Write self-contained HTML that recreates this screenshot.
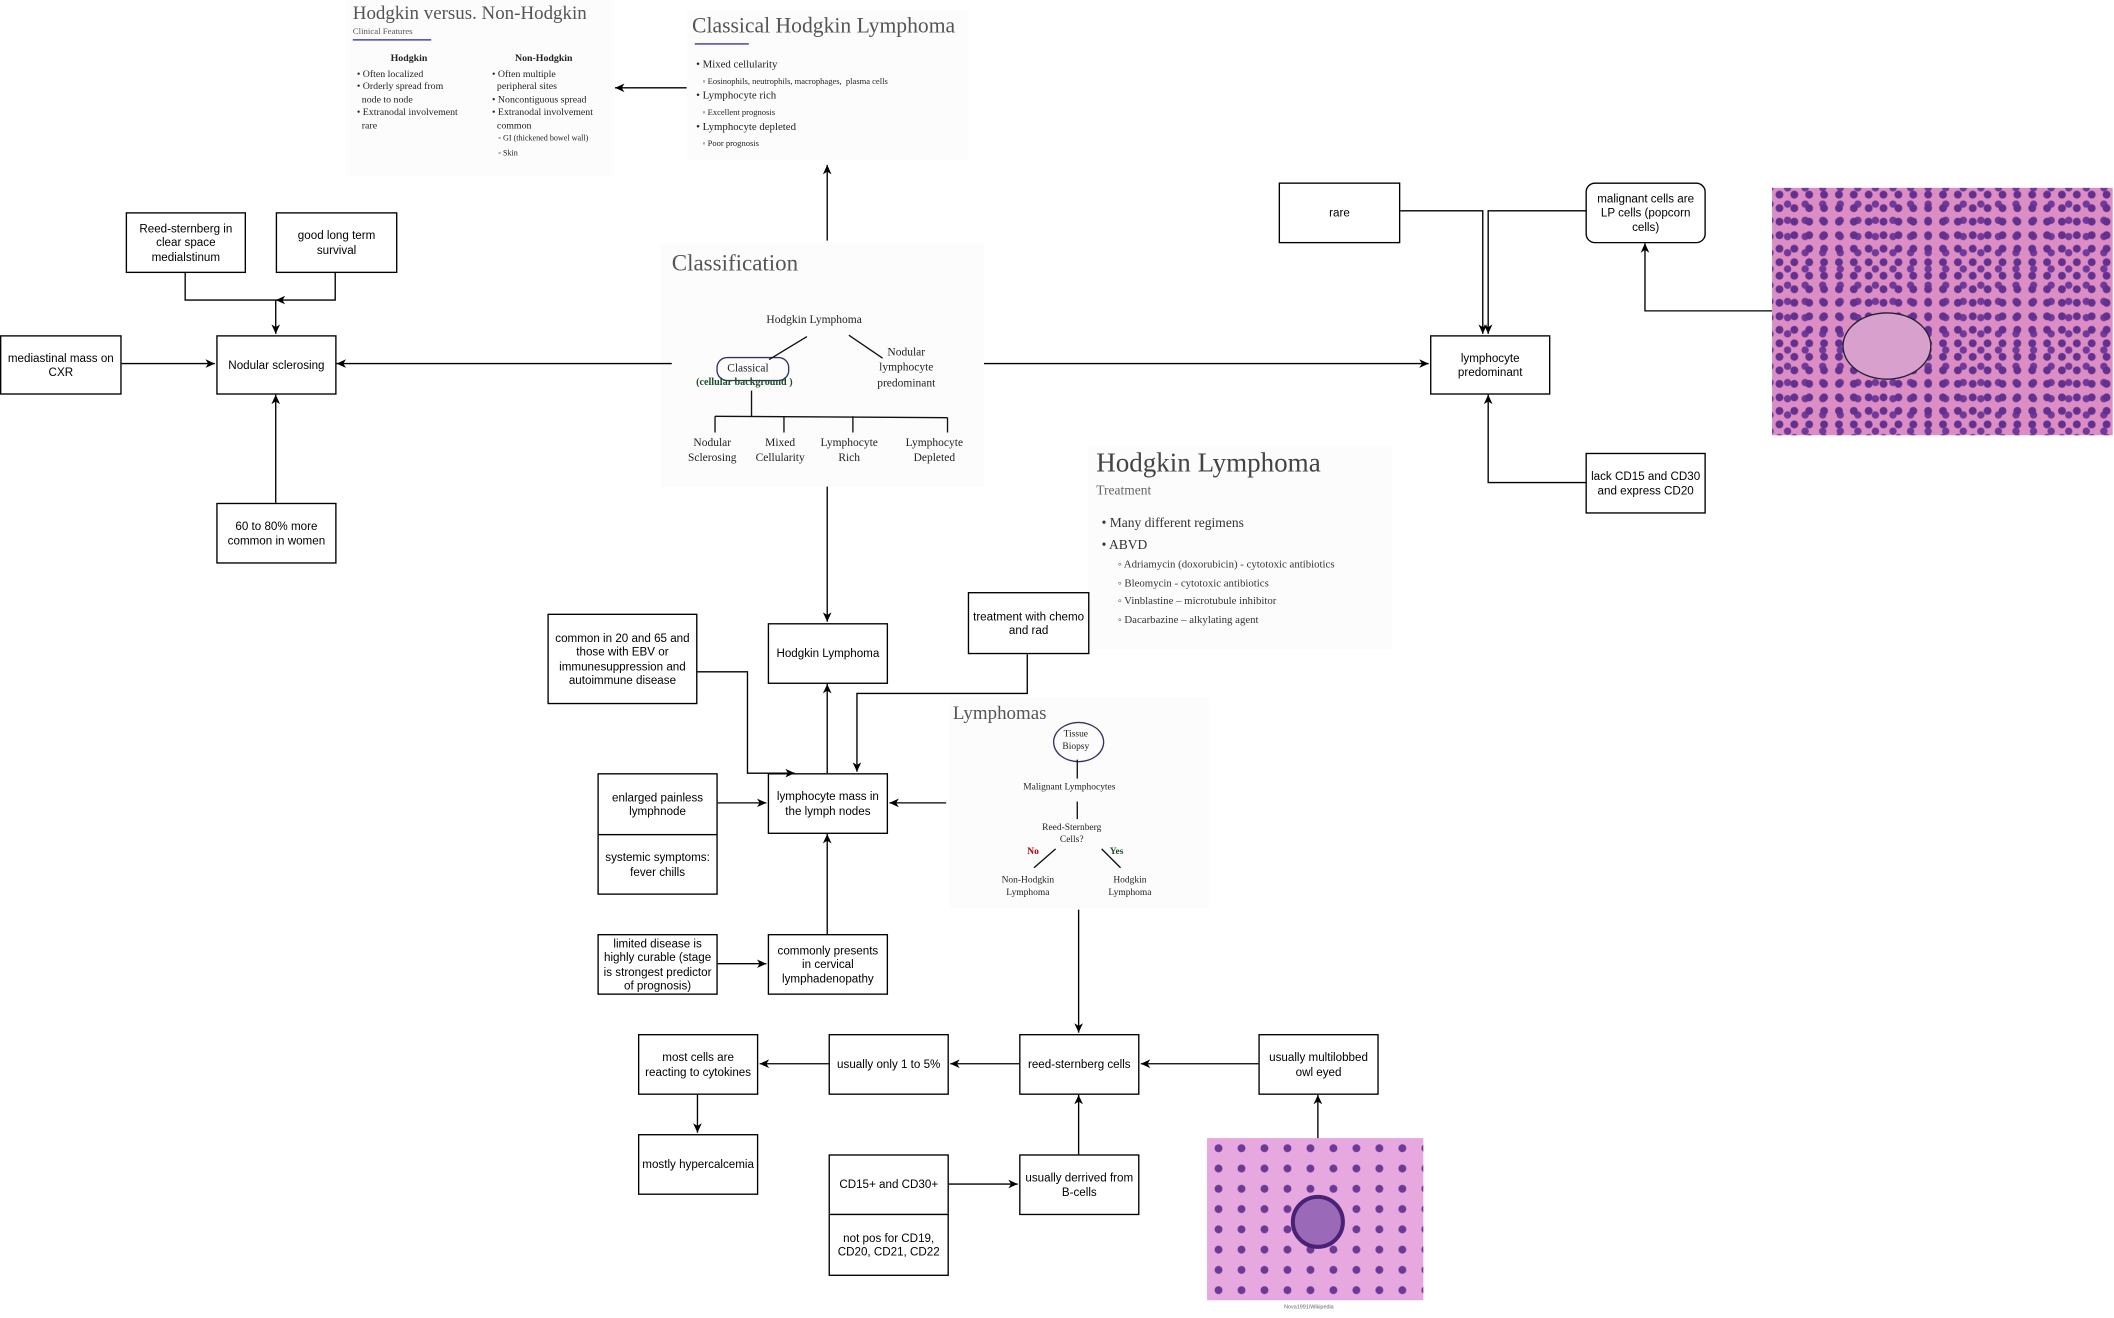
<!DOCTYPE html>
<html><head><meta charset="utf-8">
<style>
html,body{margin:0;padding:0;background:#fff;overflow:hidden}
#w{position:absolute;left:0;top:0;width:1564px;height:975px;transform:scale(1.35166);transform-origin:0 0;font-family:"Liberation Sans",Arial,sans-serif}
.b{position:absolute;box-sizing:border-box;border:1px solid #000;background:#fff;display:flex;align-items:center;justify-content:center;text-align:center;font-size:8.6px;line-height:1.2;padding:2px}
.s{position:absolute;font-family:"Liberation Serif",serif;color:#222;background:#fcfcfc}
.s .t{position:absolute;color:#555;white-space:nowrap}
.s .x{position:absolute;white-space:nowrap;font-size:7.3px;line-height:1.3}
.h{position:absolute;overflow:hidden}
</style></head><body><div id="w">

<div class="s" style="left:257px;top:0;width:196px;height:130px">
<div class="t" style="left:4px;top:3px;font-size:14px">Hodgkin versus. Non-Hodgkin</div>
<div class="t" style="left:4px;top:20px;font-size:6.5px">Clinical Features</div>
<div style="position:absolute;left:4px;top:29px;width:58px;border-top:1px solid #33a"></div>
<div class="x" style="left:32px;top:38px;font-weight:bold">Hodgkin</div>
<div class="x" style="left:124px;top:38px;font-weight:bold">Non-Hodgkin</div>
<div class="x" style="left:7px;top:50px">• Often localized<br>• Orderly spread from<br>&nbsp;&nbsp;node to node<br>• Extranodal involvement<br>&nbsp;&nbsp;rare</div>
<div class="x" style="left:107px;top:50px">• Often multiple<br>&nbsp;&nbsp;peripheral sites<br>• Noncontiguous spread<br>• Extranodal involvement<br>&nbsp;&nbsp;common<br><span style="font-size:6px">&nbsp;&nbsp;&nbsp;◦ GI (thickened bowel wall)<br>&nbsp;&nbsp;&nbsp;◦ Skin</span></div>
</div>

<div class="s" style="left:508px;top:8px;width:209px;height:110px">
<div class="t" style="left:4px;top:3px;font-size:16px">Classical Hodgkin Lymphoma</div>
<div style="position:absolute;left:6px;top:24px;width:40px;border-top:1px solid #33a"></div>
<div class="x" style="left:7px;top:34px;font-size:8px;line-height:1.45">• Mixed cellularity<br><span style="font-size:6.3px">&nbsp;&nbsp;&nbsp;◦ Eosinophils, neutrophils, macrophages,&nbsp; plasma cells</span><br>• Lymphocyte rich<br><span style="font-size:6.3px">&nbsp;&nbsp;&nbsp;◦ Excellent prognosis</span><br>• Lymphocyte depleted<br><span style="font-size:6.3px">&nbsp;&nbsp;&nbsp;◦ Poor prognosis</span></div>
</div>

<div class="s" style="left:489px;top:180px;width:239px;height:180px">
<div class="t" style="left:8px;top:5px;font-size:17px">Classification</div>
<div class="x" style="left:78px;top:51px;font-size:8.5px">Hodgkin Lymphoma</div>
<div class="x" style="left:49px;top:87px;font-size:8.5px">Classical</div>
<div style="position:absolute;left:41px;top:84px;width:52px;height:16px;border:1px solid #336;border-radius:8px"></div>
<div class="x" style="left:26px;top:98px;font-size:7.5px;color:#1c4f2a;font-weight:bold">(cellular background )</div>
<div class="x" style="left:160px;top:75px;font-size:8.5px;text-align:center;line-height:1.35">Nodular<br>lymphocyte<br>predominant</div>
<div class="x" style="left:20px;top:142px;font-size:8.5px;text-align:center;line-height:1.35">Nodular<br>Sclerosing</div>
<div class="x" style="left:70px;top:142px;font-size:8.5px;text-align:center;line-height:1.35">Mixed<br>Cellularity</div>
<div class="x" style="left:118px;top:142px;font-size:8.5px;text-align:center;line-height:1.35">Lymphocyte<br>Rich</div>
<div class="x" style="left:181px;top:142px;font-size:8.5px;text-align:center;line-height:1.35">Lymphocyte<br>Depleted</div>
<svg style="position:absolute;left:0;top:0" width="239" height="180"><g stroke="#111" stroke-width="1" fill="none">
<line x1="108" y1="69" x2="80" y2="86"/><line x1="139" y1="68" x2="164" y2="85"/>
<line x1="67" y1="109" x2="67" y2="128"/><line x1="40" y1="128" x2="212" y2="129"/>
<line x1="40" y1="128" x2="40" y2="140"/><line x1="91" y1="128" x2="91" y2="140"/><line x1="142" y1="128" x2="142" y2="140"/><line x1="212" y1="129" x2="212" y2="140"/></g></svg>
</div>

<div class="s" style="left:805px;top:330px;width:225px;height:150px">
<div class="t" style="left:6px;top:2px;font-size:20px;color:#444">Hodgkin Lymphoma</div>
<div class="t" style="left:6px;top:28px;font-size:10px;color:#666">Treatment</div>
<div class="x" style="left:10px;top:50px;font-size:10px;line-height:1.6;color:#333">• Many different regimens<br>• ABVD</div>
<div class="x" style="left:22px;top:81px;font-size:8px;line-height:1.7;color:#333">◦ Adriamycin (doxorubicin) - cytotoxic antibiotics<br>◦ Bleomycin - cytotoxic antibiotics<br>◦ Vinblastine – microtubule inhibitor<br>◦ Dacarbazine – alkylating agent</div>
</div>

<div class="s" style="left:703px;top:516px;width:192px;height:156px">
<div class="t" style="left:2px;top:5px;font-size:14px">Lymphomas</div>
<div style="position:absolute;left:76px;top:18px;width:36px;height:28px;border:1px solid #336;border-radius:50%"></div>
<div class="x" style="left:83px;top:23px;font-size:7px;text-align:center">Tissue<br>Biopsy</div>
<div class="x" style="left:54px;top:62px;font-size:7px">Malignant Lymphocytes</div>
<div class="x" style="left:68px;top:92px;font-size:7px;text-align:center">Reed-Sternberg<br>Cells?</div>
<div class="x" style="left:57px;top:110px;font-size:7px;color:#a00;font-weight:bold">No</div>
<div class="x" style="left:118px;top:110px;font-size:7px;color:#1c4f2a;font-weight:bold">Yes</div>
<div class="x" style="left:38px;top:131px;font-size:7px;text-align:center">Non-Hodgkin<br>Lymphoma</div>
<div class="x" style="left:117px;top:131px;font-size:7px;text-align:center">Hodgkin<br>Lymphoma</div>
<svg style="position:absolute;left:0;top:0" width="192" height="156"><g stroke="#111" fill="none"><line x1="94" y1="46" x2="94" y2="60"/><line x1="94" y1="77" x2="94" y2="90"/><line x1="78" y1="112" x2="62" y2="126"/><line x1="112" y1="112" x2="126" y2="126"/></g></svg>
</div>

<div class="h" style="left:1311px;top:139px;width:252px;height:183px;background-color:#dc8ec4;background-image:radial-gradient(circle,#62318f 0,#62318f 2.6px,transparent 3.2px),radial-gradient(circle,#70399a 0,#70399a 2.4px,transparent 3px);background-size:11px 10px,13px 12px;background-position:0 0,5px 6px">
<div style="position:absolute;left:52px;top:92px;width:64px;height:48px;border:1px solid #223;border-radius:50%;background:#d8a0cc"></div>
</div>
<div class="h" style="left:893px;top:842px;width:160px;height:120px;background-color:#e7a8e0;background-image:radial-gradient(circle,#6a3a95 0,#6a3a95 2.6px,transparent 3.2px);background-size:17px 15px">
<div style="position:absolute;left:62px;top:42px;width:34px;height:34px;border-radius:50%;background:#9a6ab8;border:3px solid #4a2275"></div>
</div>
<div style="position:absolute;left:950px;top:964px;font-size:4px;color:#666">Nova1991/Wikipedia</div>

<div class="b" style="left:93px;top:157px;width:89px;height:45px">Reed-sternberg in clear space medialstinum</div>
<div class="b" style="left:204px;top:157px;width:90px;height:45px">good long term survival</div>
<div class="b" style="left:0px;top:248px;width:90px;height:44px">mediastinal mass on CXR</div>
<div class="b" style="left:160px;top:248px;width:89px;height:44px">Nodular sclerosing</div>
<div class="b" style="left:160px;top:372px;width:89px;height:45px">60 to 80% more common in women</div>
<div class="b" style="left:568px;top:461px;width:89px;height:45px">Hodgkin Lymphoma</div>
<div class="b" style="left:405px;top:454px;width:111px;height:67px">common in 20 and 65 and those with EBV or immunesuppression and autoimmune disease</div>
<div class="b" style="left:716px;top:438px;width:90px;height:46px">treatment with chemo and rad</div>
<div class="b" style="left:442px;top:572px;width:89px;height:46px">enlarged painless lymphnode</div>
<div class="b" style="left:442px;top:617px;width:89px;height:45px">systemic symptoms: fever chills</div>
<div class="b" style="left:568px;top:572px;width:89px;height:45px">lymphocyte mass in the lymph nodes</div>
<div class="b" style="left:442px;top:691px;width:89px;height:45px">limited disease is highly curable (stage is strongest predictor of prognosis)</div>
<div class="b" style="left:568px;top:691px;width:89px;height:45px">commonly presents in cervical lymphadenopathy</div>
<div class="b" style="left:472px;top:765px;width:89px;height:45px">most cells are reacting to cytokines</div>
<div class="b" style="left:613px;top:765px;width:89px;height:45px">usually only 1 to 5%</div>
<div class="b" style="left:754px;top:765px;width:89px;height:45px">reed-sternberg cells</div>
<div class="b" style="left:931px;top:765px;width:89px;height:45px">usually multilobbed owl eyed</div>
<div class="b" style="left:472px;top:839px;width:89px;height:45px">mostly hypercalcemia</div>
<div class="b" style="left:613px;top:854px;width:89px;height:45px">CD15+ and CD30+</div>
<div class="b" style="left:613px;top:898px;width:89px;height:46px">not pos for CD19, CD20, CD21, CD22</div>
<div class="b" style="left:754px;top:854px;width:89px;height:45px">usually derrived from B-cells</div>
<div class="b" style="left:946px;top:135px;width:90px;height:45px">rare</div>
<div class="b" style="left:1173px;top:135px;width:89px;height:45px;border-radius:7px">malignant cells are LP cells (popcorn cells)</div>
<div class="b" style="left:1058px;top:248px;width:89px;height:44px">lymphocyte predominant</div>
<div class="b" style="left:1173px;top:335px;width:89px;height:45px">lack CD15 and CD30 and express CD20</div>

<svg style="position:absolute;left:0;top:0" width="1564" height="975">
<defs><marker id="a" markerWidth="8" markerHeight="8" refX="7" refY="4" orient="auto" markerUnits="userSpaceOnUse"><path d="M0,0.8 L7,4 L0,7.2 L2,4 z" fill="#000"/></marker></defs>
<g stroke="#000" stroke-width="1" fill="none" marker-end="url(#a)">
<path d="M508,65 H455"/>
<path d="M612,178 V122"/>
<path d="M497,269 H249"/>
<path d="M728,269 H1057"/>
<path d="M612,360 V460"/>
<path d="M137,202 V222 H204 V247"/>
<path d="M248,202 V222 H204"/>
<path d="M90,269 H159"/>
<path d="M204,372 V292"/>
<path d="M1036,156 H1097 V247"/>
<path d="M1173,156 H1101 V247"/>
<path d="M1311,230 H1217 V180"/>
<path d="M1173,357 H1101 V292"/>
<path d="M612,572 V506"/>
<path d="M516,497 H553 V572 H588"/>
<path d="M760,484 V513 H634 V571"/>
<path d="M531,594 H567"/>
<path d="M700,594 H658"/>
<path d="M612,691 V617"/>
<path d="M531,713 H567"/>
<path d="M798,673 V764"/>
<path d="M754,787 H703"/>
<path d="M613,787 H562"/>
<path d="M516,810 V838"/>
<path d="M931,787 H844"/>
<path d="M975,842 V810"/>
<path d="M798,854 V810"/>
<path d="M702,876 H753"/>
</g></svg>
</div></body></html>
